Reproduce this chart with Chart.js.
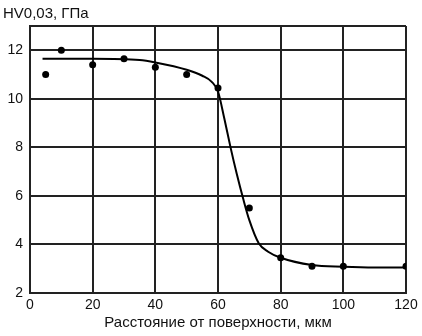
<!DOCTYPE html>
<html>
<head>
<meta charset="utf-8">
<script src="https://cdn.jsdelivr.net/npm/chart.js@4/dist/chart.umd.min.js"></script>
<style>
	html, body { margin: 0; padding: 0; background: #fff; }
	#wrap { width: 422px; height: 336px; }
</style>
</head>
<body>
<div id="wrap"><canvas id="hvChart" width="422" height="336"></canvas></div>
<script>
// measured hardness points
const depthPts = [5, 10, 20, 30, 40, 50, 60, 70, 80, 90, 100, 120];
const hvPts = [11.0, 12.0, 11.4, 11.65, 11.3, 11.0, 10.45, 5.5, 3.45, 3.1, 3.1, 3.1];
// fitted curve
const depthCurve = [4, 20, 35, 40, 50, 55, 58, 60, 62, 64, 66, 68, 70, 73, 76, 80, 90, 100, 110, 120];
const hvCurve = [11.65, 11.65, 11.6, 11.5, 11.2, 10.95, 10.7, 10.3, 9.2, 8.0, 6.9, 5.9, 5.0, 4.05, 3.7, 3.45, 3.15, 3.08, 3.05, 3.05];
const yTicks = [2, 4, 6, 8, 10, 12];
const xTicks = [0, 20, 40, 60, 80, 100, 120];
const yLabel = 'HV0,03, ГПа';
const xLabel = 'Расстояние от поверхности, мкм';

const fontFam = "'Liberation Sans', Arial, sans-serif";
const lineCol = '#222';

function toXY(xs, ys) {
	return xs.map(function(x, i) { return { x: x, y: ys[i] }; });
}

const topLabel = {
	id: 'topLabel',
	afterDraw: function(chart) {
		const ctx = chart.ctx;
		ctx.save();
		ctx.font = '15px ' + fontFam;
		ctx.fillStyle = '#111';
		ctx.textBaseline = 'middle';
		ctx.textAlign = 'left';
		ctx.fillText(yLabel, 3, 14);
		ctx.restore();
	}
};

const ctx = document.getElementById('hvChart').getContext('2d');
new Chart(ctx, {
	type: 'scatter',
	data: {
		datasets: [{
			data: toXY(depthCurve, hvCurve),
			showLine: true,
			borderColor: '#000',
			borderWidth: 2,
			pointRadius: 0,
			cubicInterpolationMode: 'monotone'
		}, {
			data: toXY(depthPts, hvPts),
			pointRadius: 3.5,
			backgroundColor: '#000',
			borderColor: '#000',
			borderWidth: 0
		}]
	},
	options: {
		responsive: false,
		animation: false,
		layout: { padding: { top: 26, right: 16, left: 0, bottom: 0 } },
		plugins: {
			legend: { display: false },
			tooltip: { enabled: false }
		},
		scales: {
			x: {
				type: 'linear',
				min: 0,
				max: 120,
				afterBuildTicks: function(scale) {
					scale.ticks = xTicks.map(function(v) { return { value: v }; });
				},
				afterFit: function(scale) { scale.height = 43; },
				grid: { color: lineCol, lineWidth: 2, drawTicks: false },
				border: { color: lineCol, width: 2 },
				ticks: { color: '#111', padding: 4, maxRotation: 0, font: { family: fontFam, size: 14 } },
				title: {
					display: true,
					text: xLabel,
					color: '#111',
					padding: { top: 0, bottom: 4 },
					font: { family: fontFam, size: 15 }
				}
			},
			y: {
				type: 'linear',
				min: 2,
				max: 13,
				afterBuildTicks: function(scale) {
					// 13 kept as a tick so its grid line closes the frame on top
					scale.ticks = yTicks.concat([13]).map(function(v) { return { value: v }; });
				},
				afterFit: function(scale) { scale.width = 30; },
				grid: { color: lineCol, lineWidth: 2, drawTicks: false },
				border: { color: lineCol, width: 2 },
				ticks: {
					color: '#111',
					padding: 7,
					font: { family: fontFam, size: 14 },
					callback: function(v) { return v === 13 ? '' : v; }
				}
			}
		}
	},
	plugins: [topLabel]
});
</script>
</body>
</html>
